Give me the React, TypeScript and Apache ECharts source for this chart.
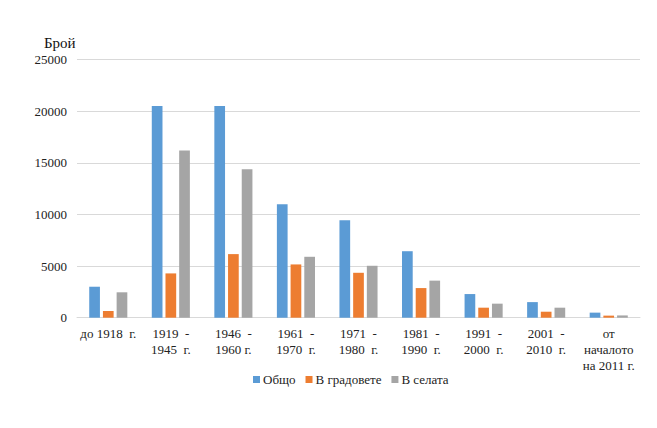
import React, { useEffect, useRef } from "react";
import * as echarts from "echarts";

const categories = [
  "до 1918  г.",
  "1919  -\n1945  г.",
  "1946  -\n1960 г.",
  "1961  -\n1970  г.",
  "1971  -\n1980  г.",
  "1981  -\n1990  г.",
  "1991  -\n2000  г.",
  "2001  -\n2010  г.",
  "от\nначалото\nна 2011 г.",
];
const seriesNames = ["Общо", "В градовете", "В селата"];
const total = [3000, 20500, 20500, 11000, 9450, 6440, 2290, 1510, 490];
const towns = [650, 4290, 6160, 5160, 4350, 2870, 970, 580, 200];
const villages = [2460, 16190, 14380, 5900, 5030, 3590, 1360, 970, 220];
const colors = ["#5b9bd5", "#ed7d31", "#a5a5a5"];

export default function App() {
  const ref = useRef<HTMLDivElement>(null);
  useEffect(() => {
    if (!ref.current) return;
    const chart = echarts.init(ref.current, undefined, { renderer: "svg" });
    const font = "Liberation Serif";
    const data = [total, towns, villages];
    chart.setOption({
      animation: false,
      textStyle: { fontFamily: font },
      grid: { left: 77, right: 17, top: 59.6, bottom: 110.3, containLabel: false },
      graphic: [
        {
          type: "text",
          left: 44,
          top: 35,
          style: { text: "Брой", fontFamily: font, fontSize: 15, fill: "#111" },
        },
      ],
      legend: {
        top: 368,
        left: 248,
        icon: "rect",
        itemWidth: 7,
        itemHeight: 7,
        itemGap: 10,
        textStyle: { fontFamily: font, fontSize: 13, color: "#222", padding: [0, 0, 0, -2] },
        data: seriesNames,
      },
      xAxis: {
        type: "category",
        data: categories,
        axisLine: { lineStyle: { color: "#d9d9d9", width: 1 } },
        axisTick: { show: false },
        axisLabel: {
          interval: 0,
          margin: 8,
          fontFamily: font,
          fontSize: 13,
          lineHeight: 16,
          color: "#222",
        },
      },
      yAxis: {
        type: "value",
        min: 0,
        max: 25000,
        interval: 5000,
        axisLine: { show: false },
        axisTick: { show: false },
        splitLine: { lineStyle: { color: "#d9d9d9", width: 1 } },
        axisLabel: {
          fontFamily: font,
          fontSize: 13,
          color: "#222",
          margin: 10,
          formatter: (v: number) => String(v),
        },
      },
      series: seriesNames.map((name, i) => ({
        name,
        type: "bar",
        data: data[i],
        barWidth: 10.7,
        barGap: "28%",
        itemStyle: { color: colors[i] },
      })),
    });
    return () => chart.dispose();
  }, []);
  return (
    <div
      ref={ref}
      style={{ position: "absolute", left: 0, top: 0, width: 657, height: 428, background: "#fff" }}
    />
  );
}
